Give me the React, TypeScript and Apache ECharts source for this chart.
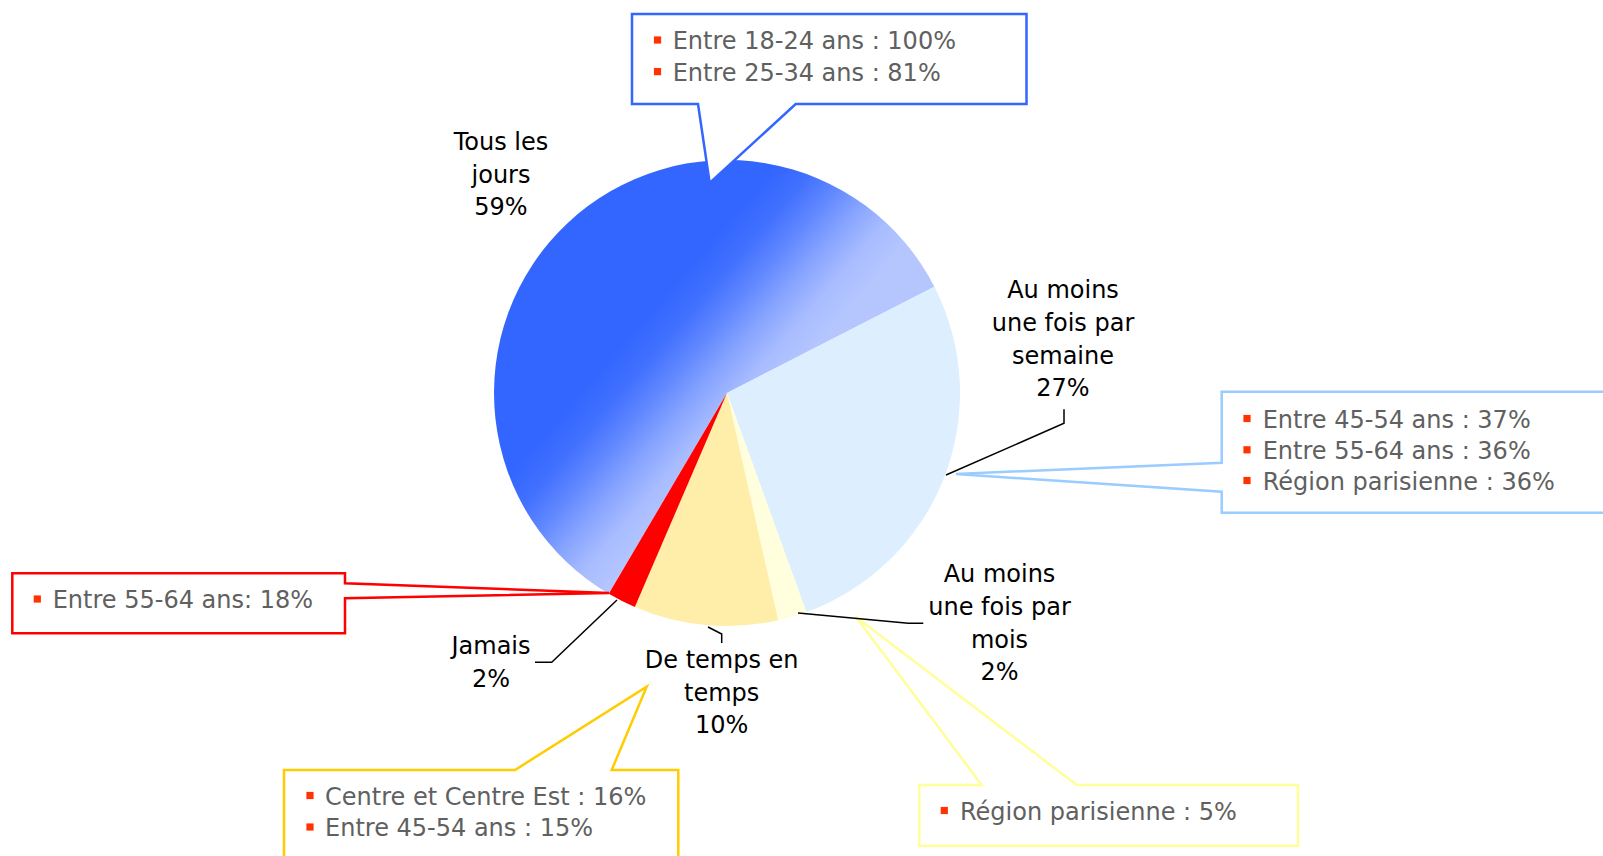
import React, { useEffect, useRef } from "react";
import * as echarts from "echarts";

// ---- data ----
const categories = [
  "Tous les jours",
  "Au moins une fois par semaine",
  "Au moins une fois par mois",
  "De temps en temps",
  "Jamais",
];
const wrappedLabels = [
  "Tous les\njours",
  "Au moins\nune fois par\nsemaine",
  "Au moins\nune fois par\nmois",
  "De temps en\ntemps",
  "Jamais",
];
const values = [59, 27, 2, 10, 2];

const calloutTousLesJours = ["Entre 18-24 ans : 100%", "Entre 25-34 ans : 81%"];
const calloutSemaine = ["Entre 45-54 ans : 37%", "Entre 55-64 ans : 36%", "Région parisienne : 36%"];
const calloutJamais = ["Entre 55-64 ans: 18%"];
const calloutTemps = ["Centre et Centre Est : 16%", "Entre 45-54 ans : 15%"];
const calloutMois = ["Région parisienne : 5%"];

// ---- layout / style ----
const FONT = "DejaVu Sans";
const CENTER: [number, number] = [727, 393];
const RADIUS = 233;
const LABEL_POS: [number, number][] = [
  [501, 174.5],
  [1063, 339.4],
  [999.5, 623.3],
  [721.7, 692.8],
  [491, 662.2],
];
const SLICE_COLORS = [
  new echarts.graphic.LinearGradient(
    673.1, 284.6, 786.6, 382.8,
    [
      { offset: 0, color: "#3366FF" },
      { offset: 0.2, color: "#4170FF" },
      { offset: 0.4, color: "#6188FF" },
      { offset: 0.6, color: "#87A4FF" },
      { offset: 0.8, color: "#A8BCFF" },
      { offset: 1, color: "#B5C6FF" },
    ],
    true
  ),
  "#DDEEFF",
  "#FFFFDD",
  "#FFEEAA",
  "#FF0000",
];

type Callout = {
  lines: string[];
  stroke: string;
  points: number[][];
  textX: number;
  bulletX: number;
  lineY: number[];
};

const CALLOUTS: Callout[] = [
  {
    lines: calloutTousLesJours,
    stroke: "#3366FF",
    points: [[632, 14], [1026.5, 14], [1026.5, 104], [795.7, 104], [709.7, 183], [698, 104], [632, 104]],
    textX: 672.7,
    bulletX: 657.5,
    lineY: [41, 72.6],
  },
  {
    lines: calloutSemaine,
    stroke: "#99CCFF",
    points: [[1221.7, 391.7], [1608, 391.7], [1608, 512.7], [1221.7, 512.7], [1221.7, 491.7], [956, 474], [1221.7, 462.7]],
    textX: 1262.7,
    bulletX: 1247,
    lineY: [419.5, 450.8, 481.5],
  },
  {
    lines: calloutJamais,
    stroke: "#FF0000",
    points: [[12.3, 573.3], [345, 573.3], [345, 583.3], [609, 593], [345, 598.3], [345, 633.3], [12.3, 633.3]],
    textX: 52.7,
    bulletX: 37.3,
    lineY: [600],
  },
  {
    lines: calloutTemps,
    stroke: "#FFCC00",
    points: [[284, 770], [515, 770], [646.7, 686.7], [611.7, 770], [678.3, 770], [678.3, 870], [284, 870]],
    textX: 325,
    bulletX: 310,
    lineY: [796.5, 828],
  },
  {
    lines: calloutMois,
    stroke: "#FFFF99",
    points: [[919.3, 785], [981.7, 785], [856, 617], [1076.7, 785], [1298, 785], [1298, 845.7], [919.3, 845.7]],
    textX: 960,
    bulletX: 944.3,
    lineY: [811.5],
  },
];

const LEADERS: number[][][] = [
  [[946, 475], [1064, 423.3], [1064, 409.3]],
  [[798, 613], [908.3, 623.3], [923.3, 623.3]],
  [[708, 627], [721.7, 634], [721.7, 643]],
  [[617, 600], [551.7, 662.3], [535, 662.3]],
];

export default function App() {
  const ref = useRef<HTMLDivElement>(null);

  useEffect(() => {
    if (!ref.current) return;
    const chart = echarts.init(ref.current, null, { renderer: "svg" });

    const graphics: any[] = [];
    CALLOUTS.forEach((c) => {
      graphics.push({
        type: "polygon",
        z: 100,
        shape: { points: c.points },
        style: { fill: "#FFFFFF", stroke: c.stroke, lineWidth: 2.5, lineJoin: "miter" },
      });
      c.lines.forEach((t, i) => {
        graphics.push({
          type: "rect",
          z: 101,
          shape: { x: c.bulletX - 3.6, y: c.lineY[i] - 4.6, width: 7.2, height: 7.2 },
          style: { fill: "#FF3300" },
        });
        graphics.push({
          type: "text",
          z: 101,
          x: c.textX,
          y: c.lineY[i],
          style: {
            text: t,
            fill: "#606060",
            font: `24px "${FONT}"`,
            align: "left",
            verticalAlign: "middle",
          },
        });
      });
    });
    LEADERS.forEach((pts) => {
      graphics.push({
        type: "polyline",
        z: 120,
        shape: { points: pts },
        style: { stroke: "#000000", lineWidth: 1.5, fill: null },
      });
    });

    chart.setOption({
      animation: false,
      backgroundColor: "#FFFFFF",
      series: [
        {
          type: "pie",
          center: CENTER,
          radius: RADIUS,
          startAngle: 239.5,
          clockwise: true,
          silent: true,
          avoidLabelOverlap: false,
          data: categories.map((name, i) => ({
            name,
            value: values[i],
            itemStyle: { color: SLICE_COLORS[i] },
          })),
          label: {
            show: true,
            position: "outside",
            formatter: (p: any) => `${wrappedLabels[p.dataIndex]}\n${p.value}%`,
            color: "#000000",
            fontFamily: FONT,
            fontSize: 24,
            lineHeight: 32.7,
            align: "center",
          },
          labelLine: { show: false },
          labelLayout: (p: any) => ({
            x: LABEL_POS[p.dataIndex][0],
            y: LABEL_POS[p.dataIndex][1],
            align: "center",
            verticalAlign: "middle",
          }),
          emphasis: { disabled: true },
        },
      ],
      graphic: { elements: graphics },
    });

    return () => chart.dispose();
  }, []);

  return (
    <div
      ref={ref}
      style={{ position: "fixed", left: 0, top: 0, width: 1603, height: 856 }}
    />
  );
}
